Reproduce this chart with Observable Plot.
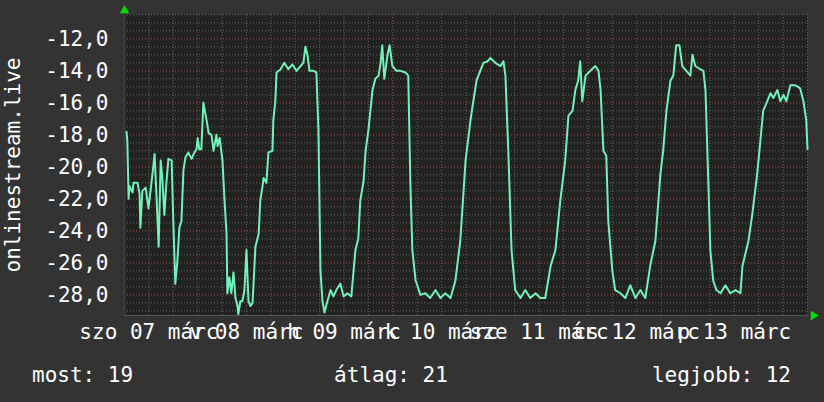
<!DOCTYPE html>
<html>
<head>
<meta charset="utf-8">
<script src="https://cdn.jsdelivr.net/npm/d3@7"></script>
<script src="https://cdn.jsdelivr.net/npm/@observablehq/plot@0.6"></script>
<style>
  html, body { margin: 0; padding: 0; background: #333333; }
  #wrap { width: 824px; height: 402px; position: relative; overflow: hidden; }
  #legend { position: absolute; left: 0; top: 350px; width: 824px; height: 52px;
    font-family: "DejaVu Sans Mono", monospace; font-size: 21px; color: #ffffff; }
  #legend span { position: absolute; top: 13px; white-space: pre; line-height: 24px; }
</style>
</head>
<body>
<div id="wrap"><div id="chart"></div><div id="legend"></div></div>
<script>
// ---- data ----
const yTitle = "onlinestream.live";
const startUTC = Date.UTC(2026, 2, 7, 6, 0);   // szo 07 márc 06:00
const endUTC = Date.UTC(2026, 2, 14, 6, 0);
const xLabels = ["szo 07 márc", "v 08 márc", "h 09 márc", "k 10 márc", "sze 11 márc", "cs 12 márc", "p 13 márc"];
const yTicks = [-12, -14, -16, -18, -20, -22, -24, -26, -28];
const yDomain = [-29.29, -10.48];
const legendLabels = ["most", "átlag", "legjobb"];
const legendValues = [19, 21, 12];

// hours since start
const hours = [0.5,0.7,1.0,1.2,2.0,2.2,3.2,3.7,3.9,4.4,5.2,5.9,6.4,6.9,7.4,7.9,8.4,8.9,9.3,9.8,10.3,10.8,11.6,12.0,12.5,13.0,13.5,14.0,14.5,15.0,15.7,16.5,17.0,17.7,18.0,18.4,18.9,19.4,20.2,20.7,21.4,21.9,22.6,22.9,23.4,24.1,24.6,25.1,25.3,25.8,26.3,26.8,27.3,27.8,28.0,28.5,29.0,29.5,30.0,30.5,31.0,31.5,32.2,33.0,33.4,33.9,34.2,34.9,35.4,36.4,36.6,37.1,37.4,38.4,39.3,40.3,41.3,42.3,43.3,44.0,44.5,45.0,45.5,46.5,47.2,47.7,48.2,48.7,49.2,49.9,50.7,51.4,52.1,53.1,53.9,54.8,55.8,56.8,57.5,58.0,58.8,59.3,60.0,61.0,61.7,62.5,63.0,63.4,63.9,64.7,65.2,65.9,66.9,67.9,69.1,69.8,70.3,70.8,71.6,72.8,74.0,75.2,76.5,77.7,78.9,80.2,81.4,82.6,83.9,85.1,85.8,86.6,87.5,88.3,89.3,90.0,91.2,92.5,93.2,93.7,94.4,95.2,96.1,97.4,98.6,99.8,101.1,102.3,103.5,104.8,106.0,107.2,108.4,109.2,110.2,110.9,111.6,112.1,112.6,113.4,114.6,115.8,116.6,117.1,117.8,118.5,119.0,120.0,120.7,122.0,123.2,124.4,125.7,126.9,128.1,129.3,130.6,131.8,132.5,133.3,134.3,135.0,135.7,136.5,137.2,138.2,139.2,139.7,140.4,141.6,142.4,142.9,143.6,144.1,144.8,145.6,146.6,147.8,149.0,150.3,151.5,152.0,153.5,154.4,155.6,156.4,157.1,158.1,158.9,159.6,160.6,161.3,162.1,162.8,163.8,165.0,166.2,167.0,167.7,168.0];
const values = [-17.8,-18.4,-22.0,-21.2,-21.6,-21.0,-21.0,-21.7,-23.8,-21.5,-21.3,-22.6,-21.5,-20.4,-19.2,-22.0,-25.0,-19.6,-20.7,-23.0,-21.0,-19.5,-19.6,-23.4,-27.3,-25.9,-23.8,-23.4,-20.2,-19.4,-19.1,-19.5,-19.2,-18.9,-18.2,-18.9,-18.9,-16.0,-17.1,-17.9,-18.0,-19.0,-18.0,-18.7,-18.2,-19.6,-22.1,-24.2,-27.9,-26.9,-27.9,-26.6,-28.2,-28.7,-29.2,-28.4,-28.4,-27.7,-25.2,-28.4,-28.7,-28.5,-25.0,-24.2,-22.1,-21.3,-20.7,-21.0,-19.1,-19.0,-17.1,-15.9,-14.1,-13.9,-13.5,-13.9,-13.6,-14.0,-13.7,-13.5,-12.5,-13.0,-14.0,-14.0,-14.1,-17.7,-26.5,-28.4,-29.1,-28.4,-27.7,-28.1,-27.7,-27.3,-28.1,-27.9,-28.1,-25.2,-24.5,-22.1,-20.9,-19.0,-17.7,-15.2,-14.5,-14.3,-13.5,-12.4,-14.5,-13.0,-12.4,-13.7,-14.0,-14.0,-14.1,-14.3,-20.9,-25.2,-27.1,-28.0,-27.9,-28.2,-27.7,-28.2,-27.9,-28.2,-27.1,-24.6,-19.6,-17.1,-15.9,-14.6,-14.0,-13.5,-13.4,-13.2,-13.5,-13.7,-13.4,-14.3,-19.0,-25.2,-27.7,-28.2,-27.7,-28.2,-27.9,-28.2,-28.2,-26.2,-25.2,-22.1,-19.6,-16.8,-16.5,-15.2,-14.6,-13.4,-15.9,-14.3,-14.0,-13.7,-14.0,-15.2,-19.0,-19.3,-23.4,-26.5,-27.7,-27.9,-28.2,-27.4,-28.2,-27.7,-28.2,-26.2,-24.6,-20.5,-19.0,-16.5,-14.6,-14.3,-12.4,-12.4,-13.7,-14.0,-14.3,-13.0,-13.7,-13.9,-14.0,-15.2,-20.9,-25.2,-27.1,-27.7,-27.9,-27.4,-27.9,-27.7,-27.9,-26.2,-24.6,-23.0,-20.5,-18.4,-16.5,-15.9,-15.4,-15.7,-15.2,-15.9,-15.5,-15.9,-14.9,-14.9,-15.1,-15.9,-17.1,-18.9];

// ---- build ----
const data = hours.map((h, i) => ({ t: new Date(startUTC + h * 3600e3), v: values[i] }));
const start = new Date(startUTC), end = new Date(endUTC);
const minorX = d3.utcHour.every(6).range(start, new Date(endUTC + 1));
const majorX = d3.utcDay.range(start, end);
const noonX = majorX.map(d => new Date(+d - 12 * 3600e3));
const labelOf = new Map(noonX.map((d, i) => [+d, xLabels[i]]));
const fmt = d => d.toFixed(1).replace(".", ",");

const plot = Plot.plot({
  width: 824,
  height: 350,
  marginTop: 14,
  marginLeft: 124,
  marginRight: 17,
  marginBottom: 35,
  style: { background: "transparent", color: "#ffffff", fontFamily: "DejaVu Sans Mono, monospace", fontSize: "21px" },
  x: { type: "utc", domain: [start, end] },
  y: { domain: yDomain },
  marks: [
    Plot.frame({ fill: "#222222", stroke: null }),
    Plot.gridY({ interval: 0.5, stroke: "#666666", strokeOpacity: 1, strokeDasharray: "1,2" }),
    Plot.gridX({ ticks: minorX, stroke: "#666666", strokeOpacity: 1, strokeDasharray: "1,2" }),
    Plot.gridY({ ticks: yTicks, stroke: "#8a3434", strokeOpacity: 1, strokeDasharray: "1,2" }),
    Plot.gridX({ ticks: majorX, stroke: "#8a3434", strokeOpacity: 1, strokeDasharray: "1,2" }),
    Plot.ruleY([yDomain[0]], { stroke: "#555555" }),
    Plot.ruleX([start], { stroke: "#3c3c3c", strokeWidth: 2 }),
    Plot.axisY({ ticks: yTicks, tickFormat: fmt, tickSize: 0, tickPadding: 16, label: null, fill: "#ffffff" }),
    Plot.axisX({ ticks: noonX, tickFormat: d => labelOf.get(+d), tickSize: 0, tickPadding: 9, label: null, fill: "#ffffff" }),
    Plot.text([yTitle], { frameAnchor: "left", text: d => d, rotate: -90, dx: -111, textAnchor: "middle", lineAnchor: "middle", fill: "#ffffff", fontSize: 21 }),
    Plot.line(data, { x: "t", y: "v", stroke: "#72f2b8", strokeWidth: 2 }),
    Plot.dot([0], { frameAnchor: "top-left", symbol: "triangle", r: 3.5, fill: "#00dd00", stroke: null, dy: -4 }),
    Plot.dot([0], { frameAnchor: "bottom-right", symbol: "triangle", r: 3.5, fill: "#00dd00", stroke: null, rotate: 90, dx: 6 })
  ]
});
document.getElementById("chart").appendChild(plot);

const legend = document.getElementById("legend");
const items = legendLabels.map((l, i) => `${l}: ${legendValues[i]}`);
const a = document.createElement("span"); a.textContent = items[0]; a.style.left = "32px"; legend.appendChild(a);
const b = document.createElement("span"); b.textContent = items[1]; b.style.left = "391px"; b.style.transform = "translateX(-50%)"; legend.appendChild(b);
const c = document.createElement("span"); c.textContent = items[2]; c.style.right = "33px"; legend.appendChild(c);
</script>
</body>
</html>
